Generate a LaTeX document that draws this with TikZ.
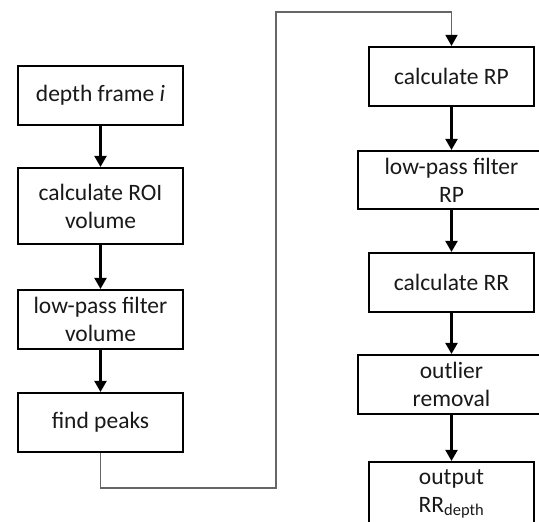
\documentclass[tikz,border=0pt]{standalone}
\usepackage{fontspec}
\setmainfont{Carlito}
\usetikzlibrary{arrows.meta}
\begin{document}
\begin{tikzpicture}[x=1pt,y=-1pt,
  box/.style={draw=black, line width=2.1pt, fill=white, inner sep=0pt,
    minimum width=165pt, minimum height=59pt, align=center,
    font=\fontsize{23.5}{28}\selectfont, text=black!90},
  wide/.style={minimum width=187pt},
  arr/.style={line width=2.1pt, -{Triangle[length=11pt,width=12pt]}},
  conn/.style={draw=black!60, line width=1.4pt, -{Triangle[length=11pt,width=12pt,black]}}]
\useasboundingbox (0,0) rectangle (539,522);
\clip (0,0) rectangle (539,522);
\fill[white] (0,0) rectangle (539,522);
\node[box] (b1) at (100.5,95.5) {depth frame \textit{i}};
\node[box, minimum height=76pt] (b2) at (100.5,206) {calculate ROI\\volume};
\node[box] (b3) at (100.5,319.5) {low-pass filter\\volume};
\node[box] (b4) at (100.5,422.5) {find peaks};
\node[box] (b5) at (451.5,76.5) {calculate RP};
\node[box, wide, minimum height=58pt] (b6) at (451.5,180) {low-pass filter\\RP};
\node[box] (b7) at (451.5,282.5) {calculate RR};
\node[box, wide] (b8) at (451.5,384.5) {outlier\\removal};
\node[box, minimum height=64pt] (b9) at (451.5,494) {output\\RR\textsubscript{depth}};
\draw[arr] (b1) -- (b2);
\draw[arr] (b2) -- (b3);
\draw[arr] (b3) -- (b4);
\draw[arr] (b5) -- (b6);
\draw[arr] (b6) -- (b7);
\draw[arr] (b7) -- (b8);
\draw[arr] (b8) -- (b9);
\coordinate (t1) at (276,488);
\coordinate (t2) at (276,12);
\draw[conn] (b4.south) |- (t1) -- (t2) -| (b5.north);
\end{tikzpicture}
\end{document}
